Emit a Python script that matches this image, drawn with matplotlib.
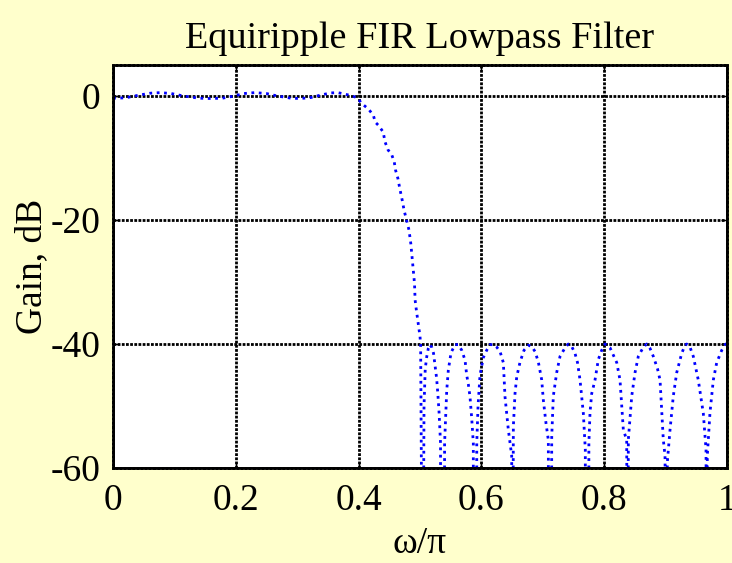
import matplotlib
matplotlib.use("Agg")
import matplotlib.pyplot as plt

# magnitude response samples: normalised frequency (w/pi) and gain in dB
passband_w = [0.0, 0.02, 0.04, 0.06, 0.077, 0.095, 0.115, 0.14, 0.158, 0.178,
              0.195, 0.213, 0.231, 0.25, 0.268, 0.29, 0.305, 0.322, 0.34, 0.355,
              0.366, 0.378, 0.39, 0.398]
passband_db = [-0.35, -0.3, 0.1, 0.45, 0.55, 0.4, 0.0, -0.35, -0.4, -0.35,
               -0.05, 0.4, 0.55, 0.4, 0.0, -0.35, -0.4, -0.25, 0.2, 0.5,
               0.55, 0.3, 0.0, -0.3]

transition_w = [0.405, 0.416, 0.424, 0.427, 0.432, 0.440, 0.443, 0.448, 0.454,
                0.458, 0.460, 0.464, 0.467, 0.471, 0.474, 0.478, 0.482, 0.485,
                0.487, 0.489, 0.491, 0.492, 0.494, 0.497, 0.500, 0.501]
transition_db = [-1.2, -2.1, -3.1, -4.2, -4.7, -5.8, -7.4, -8.7, -9.5,
                 -10.6, -11.9, -13.3, -14.9, -16.8, -18.4, -20.0, -21.6, -23.8,
                 -25.9, -28.1, -30.2, -32.9, -34.5, -36.7, -38.8, -40.2]

stopband_w = [0.5044,
              0.5065, 0.5085, 0.511, 0.5135, 0.516, 0.519, 0.522, 0.5245, 0.527,
              0.529, 0.531, 0.5325, 0.5334,
              0.5336, 0.5397,
              0.5400, 0.5435, 0.5461, 0.5505, 0.5570, 0.5624, 0.5679, 0.5733,
              0.5760, 0.5787, 0.5814, 0.5842, 0.5868,
              0.5869, 0.5922,
              0.5924, 0.5945, 0.5977, 0.6031, 0.6086, 0.6140, 0.6194, 0.6249,
              0.6303, 0.6357, 0.6384, 0.6438, 0.6493,
              0.6508,
              0.6520, 0.6547, 0.6575, 0.6629, 0.6694, 0.6764, 0.6819, 0.6873,
              0.6927, 0.6982, 0.7008, 0.7052, 0.7090,
              0.7092, 0.7138,
              0.7145, 0.7171, 0.7226, 0.7280, 0.7362, 0.7415, 0.7471, 0.7524,
              0.7565, 0.7606, 0.7660, 0.7692,
              0.7694, 0.7748,
              0.7750, 0.7769, 0.7796, 0.7850, 0.7904, 0.7959, 0.8013, 0.8094,
              0.8204, 0.8257, 0.8285, 0.8311, 0.8366,
              0.8378,
              0.8393, 0.8448, 0.8502, 0.8555, 0.8637, 0.8692, 0.8746, 0.8800,
              0.8868, 0.8909, 0.8962, 0.8990,
              0.9015,
              0.9028, 0.9072, 0.9125, 0.9181, 0.9262, 0.9316, 0.9344, 0.9397,
              0.9451, 0.9532, 0.9614, 0.9658,
              0.9668,
              0.9679, 0.9723, 0.9777, 0.9832, 0.9914, 0.9967, 1.0]
stopband_db = [-95,
               -50, -44, -42, -40.7, -40.1, -40.5, -41.5, -43.5, -45.5,
               -48, -51, -54, -56,
               -95, -95,
               -56, -47.5, -44.2, -41.4, -40.1, -40.1, -41, -42.6,
               -45.0, -46.5, -48.5, -52, -56,
               -95, -95,
               -56, -50, -45, -42.2, -41, -40.1, -40.1, -40.5,
               -41.2, -43, -48.5, -53.8, -58,
               -95,
               -53.3, -48, -45.3, -42.9, -41, -40.2, -40.4, -41.2,
               -42.9, -45.8, -49, -52.8, -55.5,
               -95, -95,
               -55, -48.4, -44.6, -42, -40.6, -40, -40.4, -41.5,
               -43, -45.8, -51.2, -57,
               -95, -95,
               -56, -51, -48, -45.8, -42.5, -41, -40, -40.6,
               -43, -45.8, -50, -53.8, -55.5,
               -95,
               -55.4, -48.4, -44.6, -42, -40.5, -40, -40.7, -42,
               -44, -45.8, -55.4, -58,
               -95,
               -59, -53.8, -48.4, -44.6, -41.5, -40.2, -40, -40.5,
               -42, -45.8, -51.2, -57,
               -95,
               -58, -51, -45.8, -43, -41, -40.1, -39.9]

x_ticks = [0, 0.2, 0.4, 0.6, 0.8, 1]
x_tick_labels = ["0", "0.2", "0.4", "0.6", "0.8", "1"]
y_ticks = [0, -20, -40, -60]
y_tick_labels = ["0", "-20", "-40", "-60"]

w = passband_w + transition_w + stopband_w
gain = passband_db + transition_db + stopband_db

plt.rcParams["font.family"] = ["Liberation Serif", "DejaVu Serif"]

fig = plt.figure(figsize=(7.32, 5.63), dpi=100, facecolor="#FFFFCC")
ax = fig.add_axes([0.1544, 0.1687, 0.8388, 0.7158])
ax.set_facecolor("white")

ax.plot(w, gain, color="#0000FF", linestyle=":", linewidth=2.0)

ax.set_xlim(0, 1)
ax.set_ylim(-60, 5)
ax.set_xticks(x_ticks)
ax.set_xticklabels(x_tick_labels)
ax.set_yticks(y_ticks)
ax.set_yticklabels(y_tick_labels)
ax.tick_params(direction="in", length=4, width=1, labelsize=27,
               top=True, right=True)
ax.tick_params(axis="x", pad=11)
ax.tick_params(axis="y", pad=9)

dots = (0, (1, 0.5))
ax.grid(True, color="black", linestyle=dots, linewidth=2.0)
for spine in ax.spines.values():
    spine.set_linestyle(dots)
    spine.set_linewidth(2.0)

ax.set_title("Equiripple FIR Lowpass Filter", fontsize=27.5, pad=12)
ax.set_xlabel("\u03c9/\u03c0", fontsize=27, labelpad=6)
ax.set_ylabel("Gain, dB", fontsize=27, labelpad=1)

fig.savefig("out.png", dpi=100, facecolor=fig.get_facecolor())
